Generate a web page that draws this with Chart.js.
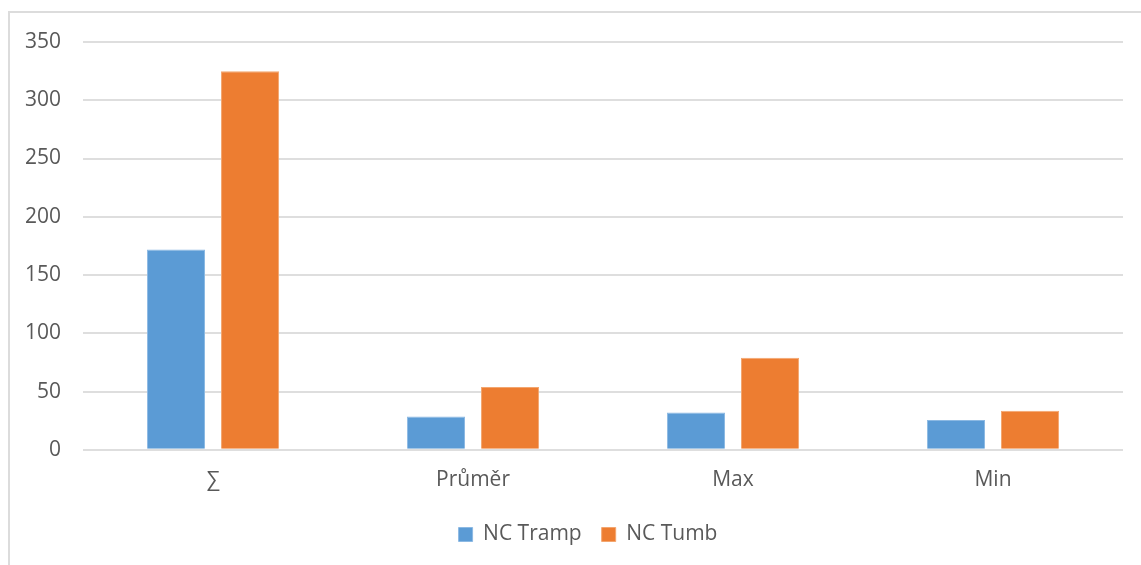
<!DOCTYPE html>
<html>
<head>
<meta charset="utf-8">
<script src="https://cdn.jsdelivr.net/npm/chart.js@4.4.1/dist/chart.umd.min.js"></script>
<style>
  html, body { margin: 0; padding: 0; background: #fff; overflow: hidden; }
  #frame {
    position: absolute; left: 8px; top: 11px; width: 1200px; height: 600px;
    border-left: 2px solid #dcdcdc; border-top: 2px solid #dcdcdc;
  }
  #c { position: absolute; left: 0; top: 0; }
</style>
</head>
<body>
<div id="frame"></div>
<canvas id="c" width="1141" height="565"></canvas>
<script>
// Categories along the x axis
const categories = ['∑', 'Průměr', 'Max', 'Min'];
// Series values
const tramp = [172, 28.5, 32, 25.5];
const tumb = [325, 54, 79, 33.5];
// Y axis range and step
const yMin = 0;
const yMax = 350;
const yStep = 50;

const FONT = '"Open Sans", "DejaVu Sans", sans-serif';

// Nudges the legend box to the right after layout so it sits under the plot centre
const legendShift = {
  id: 'legendShift',
  afterLayout(chart) {
    const lg = chart.legend;
    if (lg) { lg.left += 25; lg.right += 25; }
  }
};

new Chart(document.getElementById('c'), {
  type: 'bar',
  data: {
    labels: categories,
    datasets: [
      {
        label: 'NC Tramp',
        data: tramp,
        backgroundColor: '#5b9bd5',
        borderColor: '#8cb9e3',
        borderWidth: 1,
        borderSkipped: 'bottom'
      },
      {
        label: 'NC Tumb',
        data: tumb,
        backgroundColor: '#ed7d31',
        borderColor: '#f3a66f',
        borderWidth: 1,
        borderSkipped: 'bottom'
      }
    ]
  },
  plugins: [legendShift],
  options: {
    responsive: false,
    animation: false,
    devicePixelRatio: 1,
    categoryPercentage: 0.57,
    barPercentage: 0.784,
    layout: { padding: { left: 3, right: 18, top: 42, bottom: 10 } },
    scales: {
      x: {
        grid: { display: false, drawTicks: false },
        border: { display: false },
        ticks: { color: '#595959', font: { family: FONT, size: 21 }, padding: 18 },
        // tighten the band between the category labels and the legend
        afterFit: (scale) => { scale.height -= 7; }
      },
      y: {
        min: yMin,
        max: yMax,
        grid: { color: '#dedede', lineWidth: 2, drawTicks: false },
        border: { display: false },
        ticks: { stepSize: yStep, color: '#595959', font: { family: FONT, size: 21 }, padding: 22 }
      }
    },
    plugins: {
      tooltip: { enabled: false },
      legend: {
        position: 'bottom',
        labels: {
          color: '#595959',
          font: { family: FONT, size: 21 },
          boxWidth: 14,
          boxHeight: 14,
          padding: 20
        }
      }
    }
  }
});
</script>
</body>
</html>
